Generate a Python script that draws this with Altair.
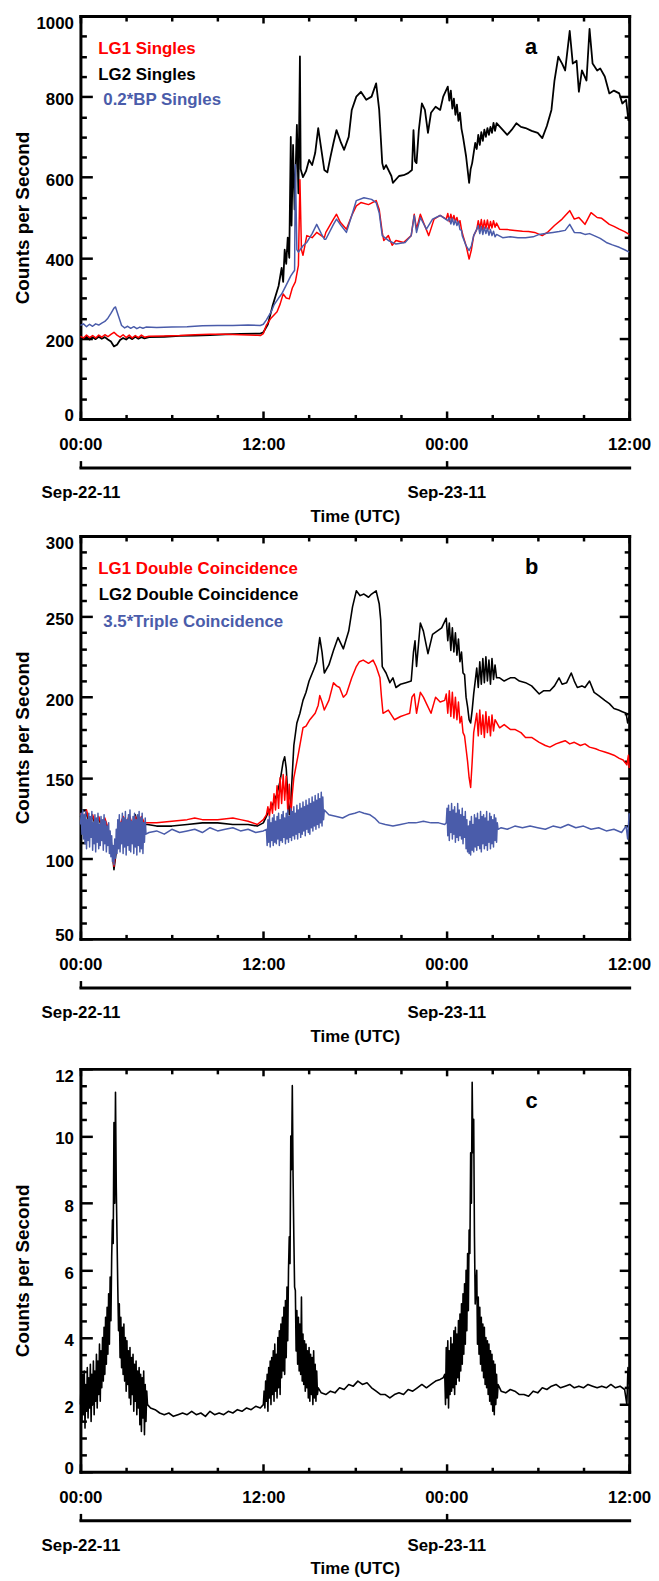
import altair as alt
import pandas as pd

FONT = "Liberation Sans"
W, H = 553, 406          # plot area of each panel
DATE_GAP = 49            # distance of the date axis below the plot
RED, BLACK, BLUE = "#ff0000", "#000000", "#4a5caa"

# ---------------- axis ticks / labels ----------------
HOURS_MAJOR = [0, 12, 24, 36]
HOURS_MINOR = [3, 6, 9, 15, 18, 21, 27, 30, 33]
HOUR_LABELS = ["00:00", "12:00", "00:00", "12:00"]
DAY_STARTS = [0, 24]
DAY_LABELS = ["Sep-22-11", "Sep-23-11"]

A_YDOM, A_YMAJOR = [0, 1000], [0, 200, 400, 600, 800, 1000]
A_YMINOR = [v for v in range(0, 1001, 50) if v % 200]
B_YDOM, B_YMAJOR = [50, 300], [50, 100, 150, 200, 250, 300]
B_YMINOR = [v for v in range(50, 301, 10) if v % 50]
C_YDOM, C_YMAJOR = [0, 12], [0, 2, 4, 6, 8, 10, 12]
C_YMINOR = [i * 0.5 for i in range(25) if i % 4]

# ---------------- data (hours since 2011-09-22 00:00 UTC, counts/s) -------------
# a segment is either a list of (hour, value) pairs or (t0, dt, [values]) for
# densely sampled noisy stretches
A_LG2 = [
    (0.0, 0.2, [202, 198, 204, 197, 203, 198, 204, 199, 203, 197, 192, 180, 184, 196, 201, 197, 203, 198, 204, 199, 203, 200]),
    [(4.5, 203), (5.5, 204), (6.5, 206), (7.5, 207), (8.5, 208), (9.5, 210), (10.5, 211), (11.5, 212), (11.8, 212),
     (12.0, 215), (12.3, 235), (12.6, 280), (12.8, 305), (13.0, 330), (13.2, 375), (13.3, 340), (13.4, 420), (13.5, 385),
     (13.6, 450), (13.7, 400), (13.8, 700), (13.85, 480), (13.95, 680), (14.05, 520), (14.2, 730), (14.3, 560),
     (14.4, 900), (14.45, 620), (14.6, 600), (14.8, 615), (15.0, 643), (15.2, 630), (15.4, 660), (15.6, 722),
     (15.8, 670), (16.0, 618), (16.2, 612), (16.4, 650), (16.6, 685), (16.8, 717), (17.1, 685), (17.3, 668),
     (17.6, 700), (17.8, 767), (18.1, 800), (18.4, 812), (18.75, 792), (19.1, 800), (19.4, 833), (19.6, 767),
     (19.8, 635), (19.9, 620), (20.05, 630), (20.4, 603), (20.5, 586), (20.9, 603), (21.2, 605), (21.5, 610),
     (21.75, 618), (21.85, 717), (21.95, 640), (22.05, 635), (22.2, 717), (22.4, 783), (22.6, 767), (22.8, 710),
     (23.0, 760), (23.3, 775), (23.6, 767), (23.8, 800), (24.1, 825)],
    (24.2, 0.1, [790, 815, 770, 795, 755, 780, 740, 760, 720]),
    [(25.1, 700), (25.3, 652), (25.5, 586), (25.6, 620), (25.7, 635), (25.9, 685)],
    (26.0, 0.1, [670, 705, 680, 712, 690, 718, 700, 722, 705, 725, 710, 735, 715, 734]),
    [(27.6, 722), (28.0, 705), (28.3, 718), (28.6, 734), (28.9, 725), (29.2, 722), (29.6, 715), (30.0, 710),
     (30.3, 697), (30.6, 727), (30.9, 767), (31.1, 840), (31.35, 899), (31.6, 882), (31.8, 865), (32.1, 963),
     (32.3, 882), (32.55, 889), (32.7, 812), (32.9, 865), (33.2, 840), (33.4, 968), (33.6, 882), (33.9, 865),
     (34.1, 870), (34.4, 850), (34.7, 808), (35.0, 815), (35.35, 808), (35.55, 783), (35.8, 792), (35.95, 741),
     (36.0, 760)],
]
A_LG1 = [
    (0.0, 0.2, [205, 201, 208, 202, 207, 201, 208, 203, 209, 204, 210, 215, 208, 203, 209, 202, 208, 201, 207, 202, 208, 203]),
    [(4.5, 205), (5.5, 206), (6.5, 207), (7.5, 209), (8.5, 210), (9.5, 210), (10.5, 209), (11.5, 208), (11.8, 207),
     (12.0, 212), (12.2, 233), (12.5, 250), (12.9, 266), (13.1, 285), (13.3, 310), (13.5, 300), (13.7, 298),
     (13.9, 325), (14.1, 340), (14.3, 381), (14.4, 594), (14.5, 420), (14.6, 406), (14.85, 455), (15.2, 450),
     (15.5, 463), (15.8, 455), (16.0, 450), (16.1, 463), (16.6, 496), (16.8, 508), (17.05, 488), (17.45, 471),
     (17.8, 505), (18.1, 529), (18.4, 537), (18.9, 532), (19.4, 542), (19.6, 520), (19.8, 463), (19.9, 443),
     (20.2, 455), (20.45, 431), (20.7, 443), (21.2, 438), (21.7, 455), (21.9, 508), (22.05, 471), (22.3, 508),
     (22.5, 488), (22.85, 455), (23.2, 496), (23.6, 505), (24.0, 496)],
    (24.1, 0.1, [510, 490, 508, 492, 505, 490, 500, 485, 492, 470]),
    [(25.1, 455), (25.3, 430), (25.5, 397), (25.65, 420), (25.8, 455)],
    (26.0, 0.1, [470, 492, 472, 495, 470, 493, 473, 494, 471, 490, 474, 492, 476, 486]),
    [(27.5, 471), (28.0, 470), (28.5, 468), (29.0, 466), (29.4, 465), (29.8, 463), (30.3, 455), (30.7, 465),
     (31.1, 480), (31.6, 496), (32.1, 517), (32.4, 496), (32.7, 500), (33.1, 483), (33.5, 512), (33.9, 500),
     (34.2, 498), (34.7, 483), (35.0, 478), (35.35, 471), (35.7, 465), (36.0, 458)],
]
A_BP = [
    [(0.0, 232), (0.2, 236), (0.4, 229), (0.6, 235), (0.8, 230), (1.0, 236), (1.2, 233), (1.4, 238), (1.6, 242),
     (1.8, 250), (2.0, 262), (2.2, 275), (2.3, 278), (2.5, 255), (2.7, 232), (2.9, 226), (3.1, 230), (3.3, 225),
     (3.5, 229), (3.7, 224), (3.9, 228), (4.1, 225), (4.3, 228), (5.0, 227), (6.0, 228), (7.0, 229), (8.0, 231),
     (9.0, 232), (10.0, 232), (11.0, 233), (11.8, 232), (12.0, 235), (12.2, 246), (12.5, 265), (12.7, 283),
     (13.0, 300), (13.2, 310), (13.5, 332), (13.8, 355), (14.05, 369), (14.1, 631), (14.2, 420), (14.3, 414),
     (14.6, 430), (14.85, 438), (15.2, 460), (15.5, 483), (15.8, 460), (16.0, 446), (16.1, 446), (16.6, 483),
     (16.8, 496), (17.1, 480), (17.45, 463), (17.8, 505), (18.1, 542), (18.6, 549), (19.1, 545), (19.4, 537),
     (19.6, 512), (19.8, 455), (20.2, 443), (20.7, 434), (21.3, 438), (21.7, 455), (21.9, 505), (22.05, 463),
     (22.3, 500), (22.7, 471), (23.1, 496), (23.6, 505), (24.1, 492)],
    (24.2, 0.1, [500, 484, 498, 482, 494, 480, 490, 470, 468]),
    [(25.05, 455), (25.3, 430), (25.5, 418), (25.65, 430), (25.8, 455), (26.0, 471)],
    (26.1, 0.1, [480, 460, 478, 458, 476, 460, 474, 456, 470, 455, 466, 452, 458]),
    [(27.7, 450), (28.2, 452), (28.7, 450), (29.2, 450), (29.7, 452), (30.1, 458), (30.6, 461), (31.0, 463),
     (31.4, 465), (31.8, 468), (32.1, 483), (32.4, 463), (32.8, 462), (33.1, 458), (33.4, 460), (33.7, 455),
     (34.1, 448), (34.5, 438), (34.9, 432), (35.35, 426), (35.7, 420), (36.0, 414)],
]

B_LG2 = [
    (0.0, 0.2, [126, 122, 128, 121, 126, 120, 125, 119, 124, 118, 112, 93, 108, 120, 125, 119, 126, 120, 127, 119, 125, 121, 121]),
    [(5.0, 120), (6.0, 120), (7.0, 121), (8.0, 122), (9.0, 122), (10.0, 121), (11.0, 121), (11.6, 120), (12.0, 122),
     (12.3, 128), (12.6, 133), (12.9, 140), (13.1, 148), (13.3, 160), (13.4, 163), (13.5, 156), (13.6, 140),
     (13.7, 127), (13.8, 135), (14.0, 170), (14.2, 184), (14.4, 190), (14.6, 198), (14.8, 203), (15.0, 210),
     (15.3, 217), (15.5, 222), (15.7, 237), (15.85, 228), (16.0, 215), (16.3, 220), (16.6, 229), (16.9, 237),
     (17.25, 230), (17.6, 241), (17.85, 256), (18.1, 266), (18.35, 263), (18.6, 264), (18.9, 262), (19.1, 264),
     (19.4, 266), (19.6, 258), (19.7, 248), (19.8, 219), (20.05, 215), (20.3, 209), (20.5, 212), (20.7, 206),
     (21.0, 208), (21.35, 209), (21.7, 210), (21.85, 228), (21.95, 235), (22.05, 219), (22.3, 246), (22.5, 241),
     (22.8, 227), (23.1, 239), (23.4, 241), (23.7, 243)],
    (24.0, 0.1, [249, 235, 246, 229, 243, 228, 240, 226, 236, 222, 228, 215, 214, 200, 194, 186, 184, 192, 202, 210]),
    (26.0, 0.1, [218, 206, 222, 208, 224, 209, 225, 210, 223, 208, 224, 211, 220, 212]),
    [(27.5, 212), (27.8, 210), (28.2, 212), (28.5, 212), (28.8, 210), (29.2, 209), (29.6, 207), (30.1, 202),
     (30.4, 204), (30.8, 204), (31.1, 207), (31.4, 212), (31.6, 208), (31.9, 209), (32.2, 215), (32.4, 210),
     (32.6, 206), (32.9, 207), (33.1, 206), (33.4, 210), (33.7, 203), (34.0, 201), (34.4, 198), (34.7, 196),
     (35.0, 193), (35.3, 192), (35.55, 191), (35.8, 190), (35.9, 184), (36.0, 188)],
]
B_LG1 = [
    (0.0, 0.2, [128, 124, 130, 122, 127, 121, 126, 120, 125, 119, 110, 95, 110, 121, 126, 120, 127, 121, 126, 120, 126, 122, 122]),
    [(5.0, 122), (6.0, 123), (7.0, 124), (7.5, 125), (8.0, 124), (9.0, 124), (10.0, 125), (10.5, 124), (11.0, 123),
     (11.6, 121), (12.0, 124)],
    (12.2, 0.1, [127, 132, 126, 135, 128, 140, 130, 145, 131, 150, 134, 152, 136, 151, 130, 146, 125, 140, 150]),
    [(14.3, 165), (14.6, 181), (14.8, 182), (15.05, 186), (15.4, 190), (15.6, 195), (15.7, 201), (15.85, 197),
     (16.0, 192), (16.3, 198), (16.6, 209), (16.8, 207), (17.0, 206), (17.25, 200), (17.45, 202), (17.8, 212),
     (18.1, 219), (18.3, 222), (18.55, 223), (18.9, 221), (19.2, 223), (19.4, 219), (19.65, 212), (19.75, 200),
     (19.85, 190), (20.2, 192), (20.6, 186), (21.0, 188), (21.3, 189), (21.6, 190), (21.75, 200), (21.9, 202),
     (22.05, 190), (22.3, 203), (22.5, 200), (22.7, 196), (23.0, 190), (23.3, 200), (23.6, 197), (23.9, 198)],
    (24.0, 0.1, [202, 190, 204, 188, 203, 187, 200, 186, 197, 184, 188, 178, 176, 168, 160, 150, 144, 160, 178, 184]),
    (26.0, 0.1, [190, 176, 192, 177, 189, 175, 191, 178, 188, 176, 189, 179, 186]),
    [(27.5, 181), (27.8, 183), (28.2, 180), (28.5, 180), (28.9, 178), (29.2, 175), (29.6, 175), (30.1, 172),
     (30.5, 170), (30.8, 169), (31.2, 171), (31.5, 172), (31.8, 173), (32.1, 171), (32.4, 172), (32.8, 170),
     (33.1, 171), (33.4, 169), (33.8, 168), (34.05, 167), (34.4, 166), (34.7, 165), (35.0, 164), (35.35, 162),
     (35.6, 161), (35.85, 158), (35.95, 164), (36.0, 156)],
]
B_TRIPLE = [
    (0.0, 0.05, [121, 128, 115, 130, 112, 127, 109, 129, 106, 124,
                 111, 128, 107, 126, 113, 129, 105, 122, 109, 127,
                 104, 125, 110, 128, 106, 121, 108, 126, 111, 124,
                 105, 127, 109, 123, 104, 120, 108, 122, 103, 117,
                 101, 114, 98, 108, 96, 112, 100, 118, 103, 124,
                 106, 127, 104, 122, 109, 128, 103, 125, 107, 129,
                 102, 124, 108, 127, 105, 130, 104, 123, 109, 126,
                 103, 128, 107, 124, 102, 127, 108, 129, 104, 125,
                 106, 128, 103, 122, 110, 125, 115]),
    [(4.5, 116), (5.0, 117), (5.5, 115), (6.0, 118), (6.5, 116), (7.0, 117), (7.5, 118), (8.0, 116), (8.5, 119),
     (9.0, 117), (9.5, 118), (10.0, 119), (10.5, 117), (11.0, 118), (11.5, 116), (12.0, 117)],
    (12.2, 0.05, [118, 108, 124, 110, 126, 107, 122, 111, 125, 108,
                  127, 110, 123, 109, 126, 112, 128, 108, 124, 111,
                  127, 110, 129, 113, 125, 109, 128, 112, 130, 110,
                  126, 113, 131, 111, 129, 114, 132, 112, 128, 115,
                  133, 112, 130, 116, 134, 113, 131, 115, 135, 117,
                  132, 114, 136, 118, 133, 116, 137, 115, 134, 119,
                  138, 117, 135, 120, 139, 118, 136, 121, 140, 119,
                  137, 122, 141, 120, 138, 124, 130]),
    [(16.3, 127), (16.8, 126), (17.2, 125), (17.6, 127), (18.0, 128), (18.3, 129), (18.6, 128), (19.0, 127),
     (19.3, 125), (19.6, 122), (20.0, 121), (20.5, 120), (21.0, 121), (21.5, 122), (22.0, 122), (22.5, 123),
     (23.0, 122), (23.5, 122), (23.9, 121)],
    (24.0, 0.05, [122, 131, 114, 133, 111, 129, 116, 134, 112, 130,
                  115, 132, 110, 128, 113, 134, 111, 130, 114, 127,
                  112, 131, 109, 126, 113, 129, 106, 124, 104, 120,
                  103, 123, 102, 126, 105, 121, 104, 127, 107, 125,
                  105, 128, 108, 124, 106, 129, 104, 126, 109, 127,
                  106, 125, 108, 129, 105, 123, 110, 128, 106, 126,
                  109, 124, 107, 127, 111, 125, 110, 122, 118]),
    [(27.6, 119), (28.0, 118), (28.5, 120), (29.0, 119), (29.5, 120), (30.0, 119), (30.5, 118), (31.0, 120),
     (31.5, 119), (32.0, 121), (32.5, 119), (33.0, 120), (33.5, 118), (34.0, 119), (34.5, 117), (35.0, 118),
     (35.5, 116), (35.8, 120), (35.9, 112), (36.0, 128)],
]

C_RATE = [
    (0.0, 0.05, [2.0, 2.7, 1.5, 2.9, 1.7, 3.0, 1.3, 2.6, 1.8, 3.1,
                 1.6, 2.8, 1.9, 3.2, 1.5, 2.9, 2.0, 3.3, 1.7, 3.0,
                 2.1, 3.5, 1.9, 3.3, 2.3, 3.8, 2.1, 3.6, 2.5, 4.0,
                 2.7, 4.3, 2.9, 4.6, 3.2, 4.9, 3.5, 5.3, 3.8, 5.8,
                 4.5, 6.4]),
    (2.1, 0.05, [7.5, 6.8, 10.4, 8.0, 11.3, 8.5, 7.0, 5.5]),
    (2.5, 0.05, [4.2, 5.0, 3.4, 4.6, 3.1, 4.3, 2.9, 4.4, 2.7, 4.0,
                 2.4, 3.9, 2.6, 3.6, 2.2, 3.7, 2.0, 3.4, 2.3, 3.5,
                 1.8, 3.2, 2.1, 3.3, 1.7, 3.0, 1.9, 3.1, 1.4, 2.9,
                 1.2, 2.8, 1.6, 3.0, 1.1, 2.6, 1.5, 2.4, 2.0]),
    [(4.6, 1.9), (4.9, 1.85), (5.2, 1.75), (5.5, 1.7), (5.8, 1.75), (6.1, 1.65), (6.4, 1.7), (6.7, 1.75), (7.0, 1.7),
     (7.3, 1.8), (7.6, 1.7), (7.9, 1.75), (8.2, 1.65), (8.5, 1.8), (8.8, 1.7), (9.1, 1.75), (9.4, 1.7), (9.7, 1.8),
     (10.0, 1.75), (10.3, 1.85), (10.6, 1.8), (10.9, 1.9), (11.2, 1.85), (11.5, 1.95), (11.8, 1.9)],
    (12.0, 0.05, [2.0, 2.4, 1.9, 2.7, 2.1, 2.9, 1.8, 3.1, 2.2, 3.3,
                  2.0, 3.4, 2.3, 3.6, 2.1, 3.8, 2.4, 3.5, 2.2, 4.0,
                  2.5, 4.2, 2.3, 4.4, 2.8, 4.6, 3.0, 4.9, 2.9, 5.1,
                  3.4, 5.5, 3.9, 6.0]),
    (13.7, 0.05, [7.0, 6.2, 10.0, 9.0, 11.5, 8.8, 7.0, 5.5]),
    (14.1, 0.05, [5.4, 3.6, 4.8, 3.2, 4.6, 3.0, 4.4, 2.9, 5.2, 2.7,
                  4.1, 2.6, 3.9, 2.4, 3.8, 2.5, 3.6, 2.2, 3.7, 2.1,
                  3.5, 2.3, 3.4, 2.0, 3.6, 2.2, 3.2, 2.1, 3.0, 2.3,
                  2.5]),
    [(15.8, 2.35), (16.1, 2.3), (16.4, 2.4), (16.7, 2.35), (17.0, 2.5), (17.3, 2.45), (17.6, 2.6), (17.9, 2.55),
     (18.2, 2.7), (18.5, 2.6), (18.8, 2.65), (19.1, 2.5), (19.4, 2.4), (19.7, 2.3), (20.0, 2.3), (20.3, 2.2),
     (20.6, 2.3), (20.9, 2.35), (21.2, 2.3), (21.5, 2.45), (21.8, 2.4), (22.1, 2.5), (22.4, 2.6), (22.7, 2.5),
     (23.0, 2.6), (23.3, 2.7), (23.6, 2.75), (23.8, 2.8)],
    (23.9, 0.05, [2.9, 2.0, 3.7, 2.2, 3.9, 1.9, 3.6, 2.3, 4.0, 2.4,
                  3.8, 2.5, 4.2, 2.3, 4.3, 2.6, 4.1, 2.8, 4.5, 2.7,
                  4.7, 3.0, 5.0, 3.2, 5.3, 3.5, 5.6, 3.8, 6.0, 4.2,
                  6.5, 4.8, 7.2]),
    (25.55, 0.05, [6.5, 9.5, 8.0, 11.6, 9.5, 10.5, 7.0, 5.0]),
    (26.0, 0.05, [6.0, 3.8, 5.2, 3.5, 4.9, 3.2, 4.6, 3.0, 4.4, 2.8,
                  4.3, 2.6, 4.0, 2.5, 3.9, 2.3, 3.8, 2.1, 3.6, 2.0,
                  3.5, 1.8, 3.3, 1.7, 3.2, 2.0, 2.9, 2.2, 2.6]),
    [(27.6, 2.4), (27.9, 2.35), (28.2, 2.45), (28.5, 2.4), (28.8, 2.3), (29.1, 2.3), (29.4, 2.25), (29.7, 2.4),
     (30.0, 2.35), (30.3, 2.5), (30.6, 2.45), (30.9, 2.55), (31.2, 2.6), (31.5, 2.5), (31.8, 2.55), (32.1, 2.6),
     (32.4, 2.5), (32.7, 2.55), (33.0, 2.5), (33.3, 2.6), (33.6, 2.55), (33.9, 2.5), (34.2, 2.55), (34.5, 2.5),
     (34.8, 2.6), (35.1, 2.5), (35.4, 2.55), (35.7, 2.45), (35.85, 2.0), (35.92, 3.1), (36.0, 2.6)],
]

# annotations: (text, colour, hour, value)
A_TEXT = [("LG1 Singles", RED, 1.17, 906), ("LG2 Singles", BLACK, 1.17, 841), ("0.2*BP Singles", BLUE, 1.5, 779)]
B_TEXT = [("LG1 Double Coincidence", RED, 1.17, 276.5), ("LG2 Double Coincidence", BLACK, 1.2, 260.5),
          ("3.5*Triple Coincidence", BLUE, 1.5, 243.8)]
A_LETTER = ("a", 29.56, 906)
B_LETTER = ("b", 29.6, 276.5)
C_LETTER = ("c", 29.6, 10.82)


def build(parts):
    ts, vs = [], []
    for p in parts:
        if isinstance(p, tuple):
            t0, dt, vals = p
            ts += [round(t0 + i * dt, 3) for i in range(len(vals))]
            vs += list(vals)
        else:
            for t, v in p:
                ts.append(t)
                vs.append(v)
    return pd.DataFrame({"t": ts, "v": vs})


def label_expr(values, labels):
    expr = "''"
    for v, l in reversed(list(zip(values, labels))):
        expr = f"datum.value === {v} ? '{l}' : ({expr})"
    return expr


STYLE = dict(grid=False, labelFont=FONT, labelFontSize=17, labelFontWeight="bold", labelColor="black",
             titleFont=FONT, titleFontSize=17, titleFontWeight="bold", titleColor="black",
             domainColor="black", tickColor="black", domainWidth=3, tickWidth=2.5, domainCap="square")


def tick_axis(orient, offset, values, size, domain):
    return alt.Axis(orient=orient, offset=offset, values=values, labels=False, title=None, ticks=True,
                    tickSize=size, domain=domain, minExtent=0, **STYLE)


def panel(series, ydom, ymajor, yminor, texts, letter):
    xs = alt.Scale(domain=[0, 36], nice=False, zero=False)
    ys = alt.Scale(domain=ydom, nice=False, zero=False)
    frame_df = pd.DataFrame({"t": [0, 36], "v": ydom})

    def ghost(xaxis, yaxis):
        return alt.Chart(frame_df).mark_point(opacity=0, size=0, strokeWidth=0).encode(
            x=alt.X("t:Q", scale=xs, axis=xaxis), y=alt.Y("v:Q", scale=ys, axis=yaxis))

    x_labels = alt.Axis(orient="bottom", values=HOURS_MAJOR, labelExpr=label_expr(HOURS_MAJOR, HOUR_LABELS),
                        domain=False, ticks=False, labelPadding=18, labelFlush=False, labelOverlap=False,
                        title=None, **STYLE)
    y_style = dict(STYLE)
    y_style["titleFontSize"] = 19
    y_labels = alt.Axis(orient="left", values=ymajor, format="d", domain=False, ticks=False, labelPadding=7,
                        labelFlush=True, labelFlushOffset=3, labelOffset=3, labelOverlap=False,
                        title="Counts per Second", titleX=-58, titleY=H / 2, titleAngle=270,
                        titleBaseline="middle", titleAlign="center", minExtent=0, **y_style)
    date_ticks = tick_axis("top", -(H + DATE_GAP), DAY_STARTS, 7, True)
    date_labels = alt.Axis(orient="bottom", offset=DATE_GAP, values=DAY_STARTS,
                           labelExpr=label_expr(DAY_STARTS, DAY_LABELS), domain=False, ticks=False,
                           labelPadding=17, labelFlush=False, labelOverlap=False, title="Time (UTC)",
                           titleX=W / 2, titleY=41, titleBaseline="top", titleAlign="center", **STYLE)

    layers = [
        ghost(x_labels, y_labels),
        # bottom / left frame (ticks point into the plot)
        ghost(tick_axis("top", -H, HOURS_MAJOR, 8, True), tick_axis("right", -W, ymajor, 12, True)),
        ghost(tick_axis("top", -H, HOURS_MINOR, 4.5, False), tick_axis("right", -W, yminor, 6, False)),
        # top / right frame
        ghost(tick_axis("bottom", -H, HOURS_MAJOR, 7, True), tick_axis("left", -W, ymajor, 10, True)),
        ghost(tick_axis("bottom", -H, HOURS_MINOR, 5, False), tick_axis("left", -W, yminor, 5, False)),
        # date axis below
        ghost(date_ticks, None),
        ghost(date_labels, None),
    ]
    for parts, color, width in series:
        layers.append(alt.Chart(build(parts)).mark_line(color=color, strokeWidth=width, strokeJoin="round").encode(
            x=alt.X("t:Q", scale=xs, axis=None), y=alt.Y("v:Q", scale=ys, axis=None)))
    if texts:
        tdf = pd.DataFrame(texts, columns=["label", "color", "t", "v"])
        layers.append(alt.Chart(tdf).mark_text(align="left", baseline="alphabetic", font=FONT, fontSize=17,
                                               fontWeight="bold").encode(
            x=alt.X("t:Q", scale=xs, axis=None), y=alt.Y("v:Q", scale=ys, axis=None),
            text="label:N", color=alt.Color("color:N", scale=None)))
    ldf = pd.DataFrame([letter], columns=["label", "t", "v"])
    layers.append(alt.Chart(ldf).mark_text(align="center", baseline="alphabetic", font=FONT, fontSize=22,
                                           fontWeight="bold", color="black").encode(
        x=alt.X("t:Q", scale=xs, axis=None), y=alt.Y("v:Q", scale=ys, axis=None), text="label:N"))
    return alt.layer(*layers).resolve_axis(x="independent", y="independent").properties(width=W, height=H)


pa = panel([(A_LG2, BLACK, 1.8), (A_LG1, RED, 1.5), (A_BP, BLUE, 1.5)], A_YDOM, A_YMAJOR, A_YMINOR,
           A_TEXT, A_LETTER)
pb = panel([(B_LG2, BLACK, 1.6), (B_LG1, RED, 1.5), (B_TRIPLE, BLUE, 1.5)], B_YDOM, B_YMAJOR, B_YMINOR,
           B_TEXT, B_LETTER)
pc = panel([(C_RATE, BLACK, 1.6)], C_YDOM, C_YMAJOR, C_YMINOR, [], C_LETTER)

chart = alt.vconcat(alt.vconcat(pa, pb, spacing=10), pc, spacing=23).properties(
    padding={"left": 6, "top": 0, "right": 0, "bottom": 0}
).configure_view(stroke=None)

chart.save("out.html", embed_options={"renderer": "svg", "actions": False})
